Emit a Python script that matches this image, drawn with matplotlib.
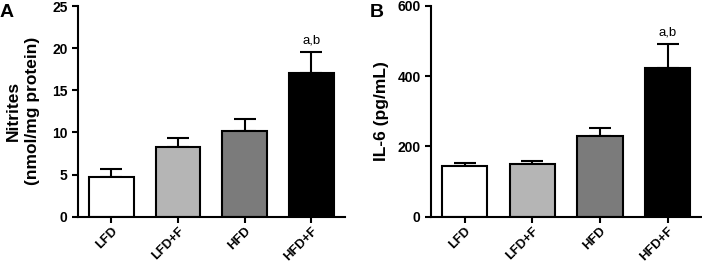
import matplotlib.pyplot as plt
import numpy as np

plt.rcParams['font.family'] = ['Liberation Sans', 'DejaVu Sans']

groups = ['LFD', 'LFD+F', 'HFD', 'HFD+F']
colors = ['white', '#b5b5b5', '#7b7b7b', 'black']

nitrites = [4.75, 8.3, 10.2, 17.1]
nitrites_err = [0.95, 1.0, 1.4, 2.5]

il6 = [145, 150, 229, 422]
il6_err = [7, 9, 22, 70]

sig_label = 'a,b'


def panel(ax, values, errs, ylim, yticks, ylabel, letter, letter_x, pad):
    x = np.arange(len(groups))
    ax.bar(x, values, width=0.67, color=colors, edgecolor='black',
           linewidth=1.5, zorder=2)
    ax.errorbar(x, values, yerr=[np.zeros(len(values)), errs], fmt='none',
                ecolor='black', elinewidth=1.5, capsize=8, capthick=1.5,
                zorder=1)
    ax.set_xlim(-0.5, 3.5)
    ax.set_ylim(*ylim)
    ax.set_yticks(yticks)
    ax.set_xticks(x)
    ax.set_xticklabels(groups, rotation=45, ha='right', rotation_mode='anchor',
                       fontweight='bold', fontsize=9.3)
    for lab in ax.get_yticklabels():
        lab.set_fontweight('bold')
        lab.set_fontsize(10)
    ax.spines['top'].set_visible(False)
    ax.spines['right'].set_visible(False)
    ax.spines['left'].set_linewidth(1.5)
    ax.spines['bottom'].set_linewidth(1.5)
    ax.tick_params(width=1.5, length=4)
    ax.tick_params(axis='x', pad=2)
    ax.set_ylabel(ylabel, fontweight='bold', fontsize=12.5, linespacing=1.3,
                  labelpad=pad)
    ax.text(3, values[3] + errs[3] + (ylim[1] * 0.025), sig_label,
            ha='center', va='bottom', fontsize=9.5)
    fig.text(letter_x, 0.985, letter, fontweight='bold', fontsize=14,
             ha='left', va='top')


fig = plt.figure(figsize=(7.02, 2.62), dpi=100)
axA = fig.add_axes([0.111, 0.173, 0.380, 0.804])
axB = fig.add_axes([0.614, 0.173, 0.385, 0.805])

panel(axA, nitrites, nitrites_err, (0, 25), [0, 5, 10, 15, 20, 25],
      'Nitrites\n(nmol/mg protein)', 'A', 0.0, 9)
panel(axB, il6, il6_err, (0, 600), [0, 200, 400, 600],
      'IL-6 (pg/mL)', 'B', 0.527, 6)

fig.savefig('out.png', dpi=100)
